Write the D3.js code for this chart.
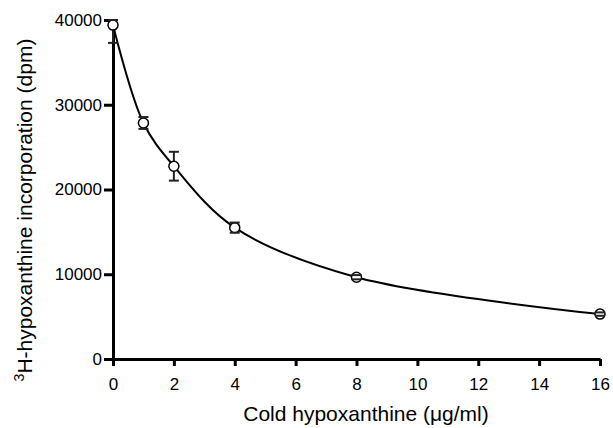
<!DOCTYPE html>
<html>
<head>
<meta charset="utf-8">
<script src="https://cdn.jsdelivr.net/npm/d3@7"></script>
<style>
  body { margin: 0; background: #fff; }
  svg { font-family: "Liberation Sans", Arial, sans-serif; }
  .tick text { font-size: 17px; fill: #000; }
</style>
</head>
<body>
<svg id="chart" width="613" height="428"></svg>
<script>
var doses = [0, 1, 2, 4, 8, 16],
    dpm = [39400, 27850, 22750, 15500, 9650, 5300],
    dpm_err = [2100, 700, 1700, 600, 250, 200],
    x_ticks = [0, 2, 4, 6, 8, 10, 12, 14, 16],
    y_ticks = [0, 10000, 20000, 30000, 40000];

var svg = d3.select('#chart'),
    plot_left = 113,
    plot_right = 600,
    plot_top = 20,
    plot_bottom = 359;

var x = d3.scaleLinear().domain([0, 16]).range([plot_left, plot_right]),
    y = d3.scaleLinear().domain([0, 40000]).range([plot_bottom, plot_top]);

var points = doses.map(function(d, i){
  return { x: d, y: dpm[i], hi: Math.min(dpm[i] + dpm_err[i], 40000), lo: dpm[i] - dpm_err[i] };
});

// axes
var x_axis = svg.append('g')
    .attr('transform', 'translate(0,' + plot_bottom + ')')
    .call(d3.axisBottom(x).tickValues(x_ticks).tickFormat(d3.format('d'))
      .tickSize(7).tickPadding(12).tickSizeOuter(0));
var y_axis = svg.append('g')
    .attr('transform', 'translate(' + plot_left + ',0)')
    .call(d3.axisLeft(y).tickValues(y_ticks).tickFormat(d3.format('d'))
      .tickSize(9).tickPadding(2).tickSizeOuter(0));

[x_axis, y_axis].forEach(function(a){
  a.attr('font-family', null);
  a.select('.domain').attr('stroke', '#000').attr('stroke-width', 3);
  a.selectAll('.tick line').attr('stroke', '#000').attr('stroke-width', 3);
});

// error bar stems
svg.append('g')
   .selectAll('line')
   .data(points)
   .enter()
   .append('line')
   .attr('x1', function(d){ return x(d.x); })
   .attr('x2', function(d){ return x(d.x); })
   .attr('y1', function(d){ return y(d.hi); })
   .attr('y2', function(d){ return y(d.lo); })
   .attr('stroke', '#222')
   .attr('stroke-width', 2);

// fitted curve
svg.append('path')
   .datum(points)
   .attr('fill', 'none')
   .attr('stroke', '#000')
   .attr('stroke-width', 2)
   .attr('d', d3.line()
     .x(function(d){ return x(d.x); })
     .y(function(d){ return y(d.y); })
     .curve(d3.curveCatmullRom.alpha(0.5)));

// points
svg.append('g')
   .selectAll('circle')
   .data(points)
   .enter()
   .append('circle')
   .attr('cx', function(d){ return x(d.x); })
   .attr('cy', function(d){ return y(d.y); })
   .attr('r', 5)
   .attr('fill', '#fff')
   .attr('stroke', '#000')
   .attr('stroke-width', 1.5);

// error bar caps, drawn over the circles
var caps = [];
points.forEach(function(d){
  caps.push({ x: d.x, v: d.hi }, { x: d.x, v: d.lo });
});
svg.append('g')
   .selectAll('line')
   .data(caps)
   .enter()
   .append('line')
   .attr('x1', function(d){ return x(d.x) - 5; })
   .attr('x2', function(d){ return x(d.x) + 5; })
   .attr('y1', function(d){ return y(d.v); })
   .attr('y2', function(d){ return y(d.v); })
   .attr('stroke', '#222')
   .attr('stroke-width', 2);

// labels
svg.append('text')
   .attr('x', 366)
   .attr('y', 421)
   .attr('text-anchor', 'middle')
   .attr('font-size', 21)
   .text('Cold hypoxanthine (\u03bcg/ml)');

var y_label = svg.append('text')
   .attr('transform', 'translate(32,210) rotate(-90)')
   .attr('text-anchor', 'middle')
   .attr('font-size', 21);
y_label.append('tspan').attr('font-size', 14).attr('dy', -8).text('3');
y_label.append('tspan').attr('dy', 8).text('H-hypoxanthine incorporation (dpm)');
</script>
</body>
</html>
